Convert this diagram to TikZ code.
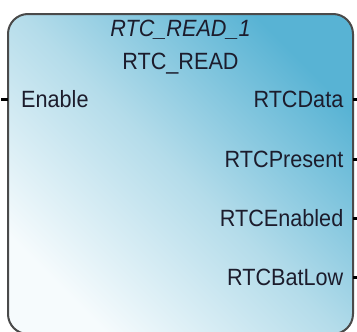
\documentclass[tikz,border=0pt]{standalone}
\usepackage{fontspec}
\setmainfont{Liberation Sans}
\definecolor{boxblue}{HTML}{58B3D4}
\definecolor{boxmid}{HTML}{B4DCEA}
\definecolor{boxlight}{HTML}{F6FBFD}
\definecolor{edgegray}{HTML}{4A4A4A}
\definecolor{txt}{HTML}{1C1C2C}
\pgfdeclarehorizontalshading{blockshade}{100bp}{color(0bp)=(boxlight); color(25bp)=(boxlight); color(50bp)=(boxmid); color(75bp)=(boxblue); color(100bp)=(boxblue)}
\newcommand{\tall}[1]{\scalebox{1.03}[1.12]{#1}}
\begin{document}
\begin{tikzpicture}[x=1pt,y=-1pt,
  lbl/.style={inner sep=0pt,text=txt,font=\fontsize{21}{25}\selectfont},
  pinline/.style={line width=3pt,black}]
\useasboundingbox (0,0) rectangle (357,332);
\begin{scope}
\clip (0,0) rectangle (357,332);
\shade[rounded corners=20pt,shading=blockshade,shading angle=45]
  (8,14) rectangle (353,334);
\draw[edgegray,line width=2pt,rounded corners=20pt] (8,14) rectangle (353,334);
\end{scope}
\node[lbl,anchor=base,font=\fontsize{21}{25}\selectfont\itshape] (inst) at (180.5,36) {\tall{RTC\_READ\_1}};
\node[lbl,anchor=base] (type) at (180.5,69.5) {\tall{RTC\_READ}};
\coordinate (inL) at (8,99);
\coordinate (inLe) at (1,99);
\node[lbl,anchor=base west] (en) at (21,107.5) {\tall{Enable}};
\foreach \n/\t/\y in {o1/RTCData/99, o2/RTCPresent/159, o3/RTCEnabled/218, o4/RTCBatLow/277}{
  \coordinate (\n p) at (353,\y);
  \coordinate (\n e) at (357,\y);
  \node[lbl,anchor=base east] (\n) at (343.5,\y+8.5) {\tall{\t}};
  \draw[pinline] (\n p) -- (\n e);
}
\draw[pinline] (inLe) -- (inL);
\end{tikzpicture}
\end{document}
